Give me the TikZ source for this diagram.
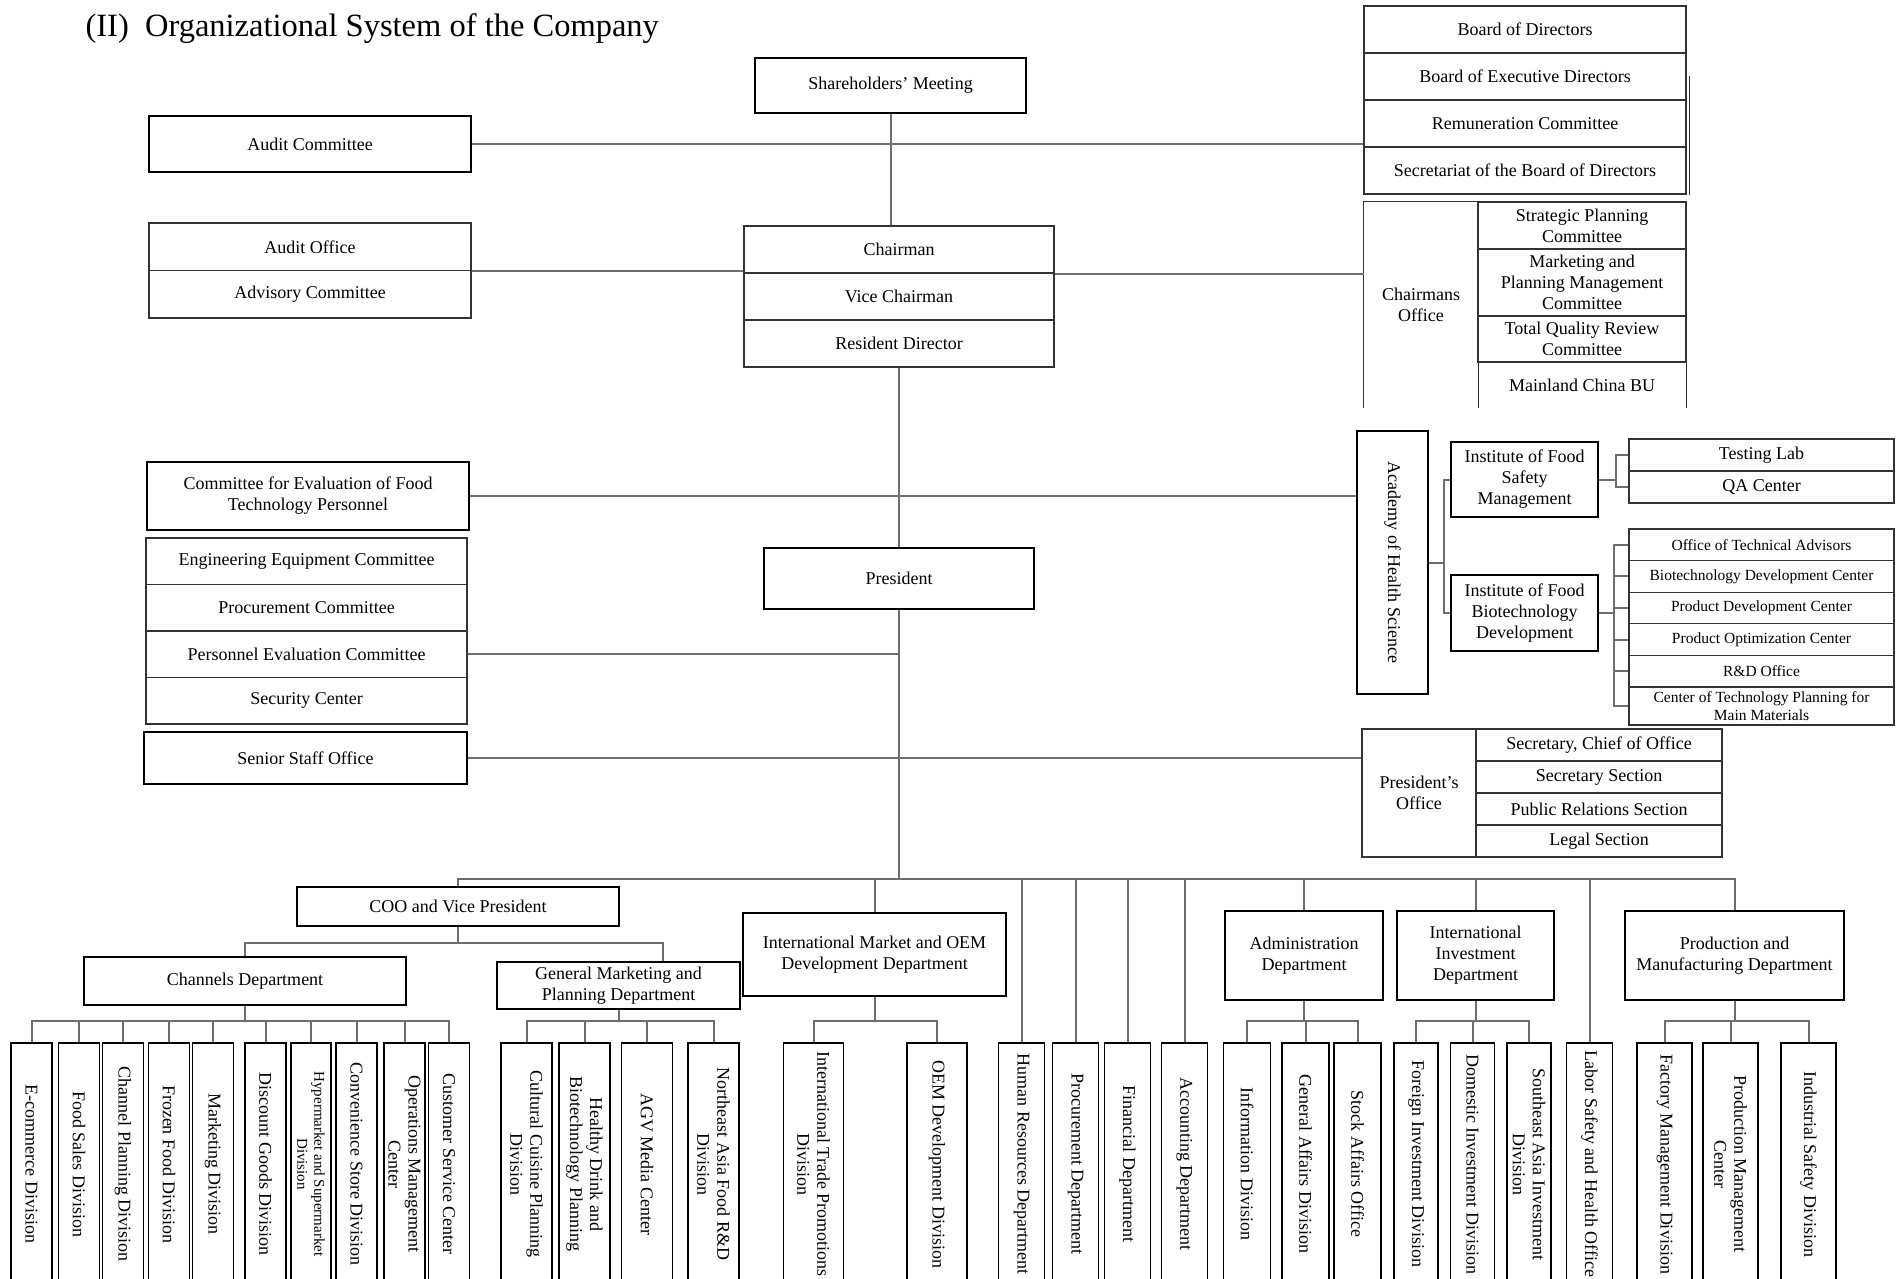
\documentclass[tikz,border=0pt]{standalone}
\usepackage{fontspec}
\setmainfont{Liberation Serif}
\definecolor{linkgray}{RGB}{110,110,110}

\begin{document}
\begin{tikzpicture}[x=1pt, y=-1pt, font=\fontsize{18}{21}\selectfont,
    blk/.style={draw, line width=1.8pt, inner sep=1pt, align=center},
    cell/.style={draw=black!80, line width=1.3pt, inner sep=1pt, align=center},
    rowline/.style={draw=black!80, line width=1.3pt},
    smallrow/.style={cell, minimum width=265pt, minimum height=31.6pt,
                     font=\fontsize{15.5}{18}\selectfont},
    vbox/.style={draw, line width=1.6pt, rotate=-90, inner sep=1pt, align=center,
                 minimum width=242pt, minimum height=#1,
                 font=\fontsize{18}{20}\selectfont},
    link/.style={draw=linkgray, line width=2pt}]
    \path[use as bounding box, fill=white] (0,0) rectangle (1898,1279);

    \node[anchor=west, font=\fontsize{32.5}{35}\selectfont] (title) at (82,29)
        {(II)\hspace{0.5em}Organizational System of the Company};

    \node[blk, minimum width=271pt, minimum height=55pt] (sh) at (890.5,85.5) {Shareholders’ Meeting};
    \node[blk, minimum width=322pt, minimum height=56pt] (audc) at (310,144) {Audit Committee};
    \node[cell, minimum width=322pt, minimum height=47.5pt] (ao) at (310,246.75) {Audit Office};
    \node[cell, minimum width=322pt, minimum height=47.5pt] (advc) at (310,294.25) {Advisory Committee};

    \node[cell, minimum width=310pt, minimum height=47pt] (chm) at (899,249.5) {Chairman};
    \node[cell, minimum width=310pt, minimum height=47pt] (vchm) at (899,296.5) {Vice Chairman};
    \node[cell, minimum width=310pt, minimum height=47pt] (rdir) at (899,343.5) {Resident Director};

    \node[cell, minimum width=322pt, minimum height=47pt] (bod) at (1525,29.5) {Board of Directors};
    \node[cell, minimum width=322pt, minimum height=47pt] (bed) at (1525,76.5) {Board of Executive Directors};
    \node[cell, minimum width=322pt, minimum height=47pt] (rem) at (1525,123.5) {Remuneration Committee};
    \node[cell, minimum width=322pt, minimum height=47pt] (sbd) at (1525,170.5) {Secretariat of the Board of Directors};
    \draw[rowline] ([xshift=3pt]bed.east) -- ([xshift=3pt]sbd.south east);

    % chairmans office, open at the bottom
    \node[minimum width=114pt, minimum height=206pt, align=center] (cho) at (1421,305) {Chairmans\\Office};
    \draw[rowline] (cho.south west) -- (cho.north west) -- (cho.north east) -- (cho.south east);
    \node[cell, minimum width=208pt, minimum height=47pt] (spc) at (1582,225.5) {Strategic Planning\\Committee};
    \node[cell, minimum width=208pt, minimum height=67pt] (mpm) at (1582,282.5) {Marketing and\\Planning Management\\Committee};
    \node[cell, minimum width=208pt, minimum height=46pt] (tqr) at (1582,339) {Total Quality Review\\Committee};
    \node[minimum width=208pt, minimum height=46pt] (mcb) at (1582,385) {Mainland China BU};
    \draw[rowline] (mcb.north east) -- (mcb.south east);

    \node[blk, minimum width=322pt, minimum height=68pt] (cefp) at (308,496) {Committee for Evaluation of Food\\Technology Personnel};
    \node[cell, minimum width=321pt, minimum height=46.5pt] (eec) at (306.5,561.25) {Engineering Equipment Committee};
    \node[cell, minimum width=321pt, minimum height=46.5pt] (pcm) at (306.5,607.75) {Procurement Committee};
    \node[cell, minimum width=321pt, minimum height=46.5pt] (pec) at (306.5,654.25) {Personnel Evaluation Committee};
    \node[cell, minimum width=321pt, minimum height=46.5pt] (sec) at (306.5,700.75) {Security Center};
    \node[blk, minimum width=323pt, minimum height=52pt] (sso) at (305.5,758) {Senior Staff Office};
    \node[blk, minimum width=270pt, minimum height=61pt] (pres) at (899,578.5) {President};

    % rotated: south is on the left, north on the right
    \node[blk, rotate=-90, minimum width=263pt, minimum height=71pt] (ahs) at (1392.5,562.5) {Academy of Health Science};
    \node[blk, minimum width=147pt, minimum height=75pt] (ifsm) at (1524.5,479.5) {Institute of Food\\Safety\\Management};
    \node[blk, minimum width=147pt, minimum height=76pt] (ifbd) at (1524.5,613) {Institute of Food\\Biotechnology\\Development};
    \node[cell, minimum width=265pt, minimum height=32pt] (tlab) at (1761.5,455) {Testing Lab};
    \node[cell, minimum width=265pt, minimum height=32pt] (qac) at (1761.5,487) {QA Center};
    \node[smallrow] (ota) at (1761.5,544.8) {Office of Technical Advisors};
    \node[smallrow] (bdc) at (1761.5,576.4) {Biotechnology Development Center};
    \node[smallrow] (pdc) at (1761.5,608) {Product Development Center};
    \node[smallrow] (poc) at (1761.5,639.6) {Product Optimization Center};
    \node[smallrow] (rdo) at (1761.5,671.2) {R\&D Office};
    \node[smallrow, minimum height=38pt] (ctp) at (1761.5,706) {Center of Technology Planning for\\Main Materials};

    \node[cell, minimum width=114pt, minimum height=128pt] (pro) at (1419,793) {President’s\\Office};
    \node[cell, minimum width=246pt, minimum height=32pt] (scoo) at (1599,745) {Secretary, Chief of Office};
    \node[cell, minimum width=246pt, minimum height=32pt] (secs) at (1599,777) {Secretary Section};
    \node[cell, minimum width=246pt, minimum height=32pt] (prs) at (1599,809) {Public Relations Section};
    \node[cell, minimum width=246pt, minimum height=32pt] (legs) at (1599,841) {Legal Section};

    \node[blk, minimum width=322pt, minimum height=39pt] (coo) at (458,906.5) {COO and Vice President};
    \node[blk, minimum width=322pt, minimum height=48pt] (chd) at (245,981) {Channels Department};
    \node[blk, minimum width=243pt, minimum height=47pt] (gmp) at (618.5,985.5) {General Marketing and\\Planning Department};
    \node[blk, minimum width=263pt, minimum height=83pt] (imo) at (874.5,954.5) {International Market and OEM\\Development Department};
    \node[blk, minimum width=158pt, minimum height=89pt] (adm) at (1304,955.5) {Administration\\Department};
    \node[blk, minimum width=157pt, minimum height=89pt] (iid) at (1475.5,955.5) {International\\Investment\\Department};
    \node[blk, minimum width=219pt, minimum height=89pt] (pmd) at (1734.5,955.5) {Production and\\Manufacturing Department};

    \draw[link] (sh.south) -- (sh.south |- chm.north);
    \draw[link] (audc.east) -- (audc.east -| rem.west);
    \draw[link] (ao.south east) -- (ao.south east -| chm.west);
    \draw[link] (chm.south east) -- (chm.south east -| cho.west);
    \draw[link] (rdir.south) -- (pres.north);
    \draw[link] (cefp.east) -- (cefp.east -| ahs.south);
    \draw[link] (pec.east) -- (pec.east -| pres.south);
    \draw[link] (sso.east) -- (sso.east -| pro.west);

    \draw[link] (ahs.north) -- ++(15,0) coordinate (ahsj);
    \draw[link] (ifsm.west) -| (ahsj) |- (ifbd.west);
    \draw[link] (ifsm.east) -- ++(17,0) coordinate (ifsmj);
    \draw[link] (tlab.west) -| (ifsmj) |- (qac.west);
    \draw[link] (ifbd.east) -- ++(15,0) coordinate (ifbdj);
    \draw[link] (ota.west) -| (ifbdj) |- (ctp.west);
    \foreach \nm in {bdc,pdc,poc,rdo}
        \draw[link] (\nm.west) -- (\nm.west -| ifbdj);

    \coordinate (busw) at (458,879);
    \coordinate (buse) at (1734.5,879);
    \draw[link] (pres.south) -- (pres.south |- busw);
    \draw[link] (coo.north) -- (busw) -- (buse) -- (pmd.north);
    \foreach \nm in {imo,adm,iid}
        \draw[link] (\nm.north) -- (\nm.north |- busw);

    \draw[link] (coo.south) -- ++(0,16) coordinate (cooj);
    \draw[link] (chd.north) |- (cooj);
    \draw[link] ([xshift=44.5pt]gmp.north) |- (cooj);
    \draw[link] (chd.south) -- ++(0,15) coordinate (chdj);
    \draw[link] (gmp.south) -- ++(0,11) coordinate (gmpj);
    \draw[link] (imo.south) -- ++(0,24) coordinate (imoj);
    \draw[link] (adm.south) -- ++(0,20) coordinate (admj);
    \draw[link] (iid.south) -- ++(0,20) coordinate (iidj);
    \draw[link] (pmd.south) -- ++(0,20) coordinate (pmdj);

    % bottom row, west is the top of each box
    \foreach \nm/\cx/\txt in {ecd/31.5/{E-commerce Division}, fsd/79/{Food Sales Division},
        cpd/123/{Channel Planning Division}, ffd/169/{Frozen Food Division},
        mkd/213/{Marketing Division}, dgd/265.5/{Discount Goods Division},
        csd/356.5/{Convenience Store Division}, omc/404.5/{Operations Management\\Center},
        csc/449/{Customer Service Center}}{
        \node[vbox=41pt] (\nm) at (\cx,1164) {\txt};
        \draw[link] (\nm.west) |- (chdj);
    }
    \node[vbox=40pt, font=\fontsize{15}{17}\selectfont] (hsd) at (311,1164) {Hypermarket and Supermarket\\Division};
    \draw[link] (hsd.west) |- (chdj);

    \foreach \nm/\cx/\txt in {ccp/526.5/{Cultural Cuisine Planning\\Division},
        hdb/584.5/{Healthy Drink and\\Biotechnology Planning}, agv/647/{AGV Media Center},
        nea/713.5/{Northeast Asia Food R\&D\\Division}}{
        \node[vbox=51pt] (\nm) at (\cx,1164) {\txt};
        \draw[link] (\nm.west) |- (gmpj);
    }
    \foreach \nm/\cx/\txt in {itp/813.5/{International Trade Promotions\\Division},
        oem/937/{OEM Development Division}}{
        \node[vbox=60pt] (\nm) at (\cx,1164) {\txt};
        \draw[link] (\nm.west) |- (imoj);
    }
    \foreach \nm/\cx/\txt in {hrd/1021.5/{Human Resources Department}, prc/1075.5/{Procurement Department},
        fnd/1127.5/{Financial Department}, acd/1184.5/{Accounting Department},
        lsh/1589.5/{Labor Safety and Health Office}}{
        \node[vbox=46pt] (\nm) at (\cx,1164) {\txt};
        \draw[link] (\nm.west) -- (\nm.west |- busw);
    }
    \foreach \nm/\cx/\txt in {inf/1247/{Information Division}, gad/1305.5/{General Affairs Division},
        sao/1357.5/{Stock Affairs Office}}{
        \node[vbox=47pt] (\nm) at (\cx,1164) {\txt};
        \draw[link] (\nm.west) |- (admj);
    }
    \foreach \nm/\cx/\txt in {fid/1416/{Foreign Investment Division}, did/1472.5/{Domestic Investment Division},
        sai/1529/{Southeast Asia Investment\\Division}}{
        \node[vbox=44pt] (\nm) at (\cx,1164) {\txt};
        \draw[link] (\nm.west) |- (iidj);
    }
    \foreach \nm/\cx/\txt in {fmd/1664.5/{Factory Management Division}, pmc/1730.5/{Production Management\\Center},
        isd/1808.5/{Industrial Safety Division}}{
        \node[vbox=55pt] (\nm) at (\cx,1164) {\txt};
        \draw[link] (\nm.west) |- (pmdj);
    }
\end{tikzpicture}
\end{document}
